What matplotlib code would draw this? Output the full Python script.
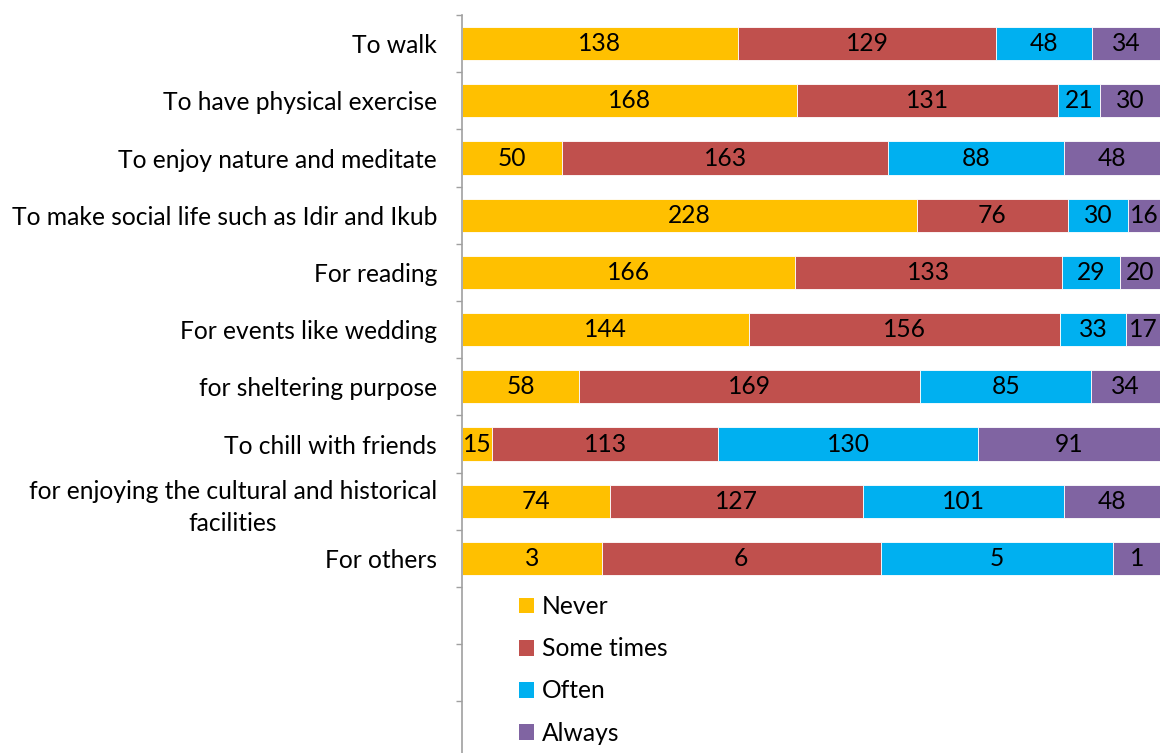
import numpy as np
import matplotlib
matplotlib.use('Agg')
from matplotlib import pyplot as plt
from matplotlib.patches import Patch

plt.rcParams['font.family'] = ['Lato', 'DejaVu Sans']

categories = ['To walk',
              'To have physical exercise',
              'To enjoy nature and meditate',
              'To make social life such as Idir and Ikub',
              'For reading',
              'For events like wedding',
              'for sheltering purpose',
              'To chill with friends',
              'for enjoying the cultural and historical\nfacilities',
              'For others']
never = [138, 168, 50, 228, 166, 144, 58, 15, 74, 3]
some_times = [129, 131, 163, 76, 133, 156, 169, 113, 127, 6]
often = [48, 21, 88, 30, 29, 33, 85, 130, 101, 5]
always = [34, 30, 48, 16, 20, 17, 34, 91, 48, 1]

series = [('Never', never, '#FFC000'),
          ('Some times', some_times, '#C0504D'),
          ('Often', often, '#00B0F0'),
          ('Always', always, '#8064A2')]

FS = 17.7
W, H = 1162, 753
fig = plt.figure(figsize=(W / 100, H / 100), dpi=100)
# 13 category slots, the last ones run past the bottom edge of the picture
n_slots = 13
slot_px = 57.2
top_px = 15
ax = fig.add_axes([462 / W, 1 - (top_px + n_slots * slot_px) / H,
                   (1160 - 462) / W, n_slots * slot_px / H])

totals = np.sum([s[1] for s in series], axis=0).astype(float)
y = np.arange(len(categories))
left = np.zeros(len(categories))
handles = []
for name, vals, col in series:
    vals = np.array(vals, dtype=float)
    frac = vals / totals
    ax.barh(y, frac, left=left, height=0.58, color=col, edgecolor='white',
            linewidth=0.6)
    for yi, (l, f, v) in enumerate(zip(left, frac, vals)):
        ax.text(l + f / 2, yi, f'{int(v)}', ha='center', va='center',
                fontsize=FS, color='black')
    left += frac
    handles.append(Patch(facecolor=col, edgecolor='none', label=name))

ax.set_xlim(0, 1)
ax.set_ylim(n_slots - 0.5, -0.5)
ax.set_xticks([])
ax.set_yticks(y)
ax.set_yticklabels(categories, fontsize=FS, multialignment='center',
                   linespacing=1.45)
ax.set_yticks(np.arange(-0.5, n_slots, 1), minor=True)
ax.tick_params(axis='y', which='major', length=0, pad=18)
ax.tick_params(axis='y', which='minor', length=4, color='#A0A0A0', width=1)
for side in ['top', 'right', 'bottom']:
    ax.spines[side].set_visible(False)
ax.spines['left'].set_color('#A0A0A0')
ax.spines['left'].set_linewidth(1.2)

fig.legend(handles=handles, loc='upper left',
           bbox_to_anchor=(497 / W, 1 - 573 / H), frameon=False,
           fontsize=FS, labelspacing=0.78, handlelength=0.62,
           handleheight=0.62, handletextpad=0.3)

plt.savefig('out.png', dpi=100)
